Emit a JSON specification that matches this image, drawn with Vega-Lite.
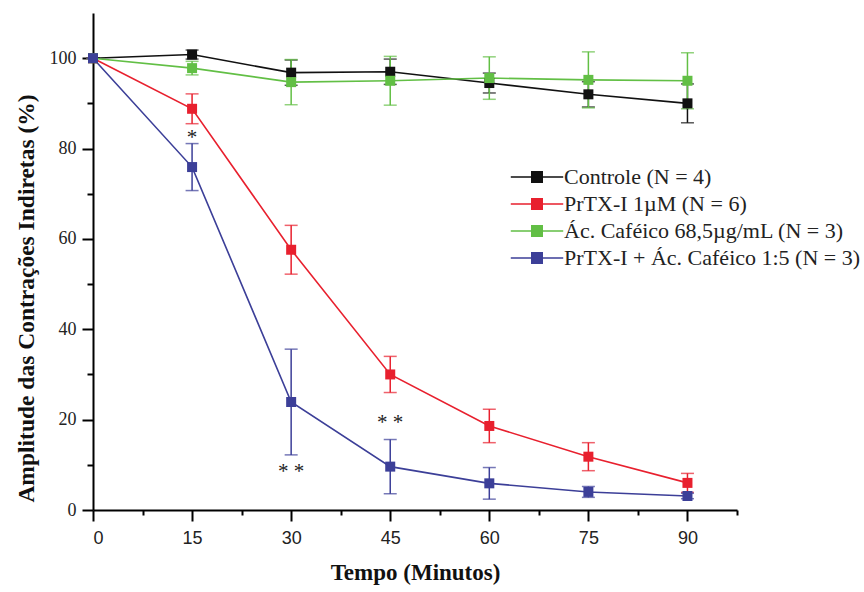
{
  "$schema": "https://vega.github.io/schema/vega-lite/v6.json",
  "autosize": {"type": "none"},
  "padding": {"left": 93, "top": 13, "right": 127, "bottom": 82},
  "width": 644,
  "height": 497,
  "background": "white",
  "config": {"view": {"stroke": null}},
  "datasets": {
    "series": [
      {"t": 0, "v": 100, "e": 0, "g": "Controle (N = 4)"},
      {"t": 15, "v": 100.8, "e": 1.0, "g": "Controle (N = 4)"},
      {"t": 30, "v": 96.8, "e": 2.8, "g": "Controle (N = 4)"},
      {"t": 45, "v": 97.0, "e": 2.8, "g": "Controle (N = 4)"},
      {"t": 60, "v": 94.5, "e": 2.2, "g": "Controle (N = 4)"},
      {"t": 75, "v": 92.0, "e": 2.8, "g": "Controle (N = 4)"},
      {"t": 90, "v": 90.0, "e": 4.3, "g": "Controle (N = 4)"},
      {"t": 0, "v": 100, "e": 0, "g": "PrTX-I 1µM (N = 6)"},
      {"t": 15, "v": 88.8, "e": 3.3, "g": "PrTX-I 1µM (N = 6)"},
      {"t": 30, "v": 57.6, "e": 5.4, "g": "PrTX-I 1µM (N = 6)"},
      {"t": 45, "v": 30.0, "e": 4.0, "g": "PrTX-I 1µM (N = 6)"},
      {"t": 60, "v": 18.6, "e": 3.7, "g": "PrTX-I 1µM (N = 6)"},
      {"t": 75, "v": 11.8, "e": 3.1, "g": "PrTX-I 1µM (N = 6)"},
      {"t": 90, "v": 6.0, "e": 2.1, "g": "PrTX-I 1µM (N = 6)"},
      {"t": 0, "v": 100, "e": 0, "g": "Ác. Caféico 68,5µg/mL (N = 3)"},
      {"t": 15, "v": 97.8, "e": 1.5, "g": "Ác. Caféico 68,5µg/mL (N = 3)"},
      {"t": 30, "v": 94.7, "e": 5.0, "g": "Ác. Caféico 68,5µg/mL (N = 3)"},
      {"t": 45, "v": 95.0, "e": 5.4, "g": "Ác. Caféico 68,5µg/mL (N = 3)"},
      {"t": 60, "v": 95.6, "e": 4.7, "g": "Ác. Caféico 68,5µg/mL (N = 3)"},
      {"t": 75, "v": 95.2, "e": 6.2, "g": "Ác. Caféico 68,5µg/mL (N = 3)"},
      {"t": 90, "v": 95.0, "e": 6.2, "g": "Ác. Caféico 68,5µg/mL (N = 3)"},
      {"t": 0, "v": 100, "e": 0, "g": "PrTX-I + Ác. Caféico 1:5 (N = 3)"},
      {"t": 15, "v": 75.9, "e": 5.2, "g": "PrTX-I + Ác. Caféico 1:5 (N = 3)"},
      {"t": 30, "v": 23.9, "e": 11.7, "g": "PrTX-I + Ác. Caféico 1:5 (N = 3)"},
      {"t": 45, "v": 9.6, "e": 6.0, "g": "PrTX-I + Ác. Caféico 1:5 (N = 3)"},
      {"t": 60, "v": 5.9, "e": 3.5, "g": "PrTX-I + Ác. Caféico 1:5 (N = 3)"},
      {"t": 75, "v": 4.0, "e": 1.2, "g": "PrTX-I + Ác. Caféico 1:5 (N = 3)"},
      {"t": 90, "v": 3.1, "e": 0.6, "g": "PrTX-I + Ác. Caféico 1:5 (N = 3)"}
    ],
    "stars": [
      {"t": 15, "v": 82.3, "s": "*"},
      {"t": 30, "v": 8.3, "s": "* *"},
      {"t": 45, "v": 19.2, "s": "* *"}
    ]
  },
  "encoding": {
    "x": {
      "field": "t", "type": "quantitative",
      "scale": {"domain": [0, 97.5], "nice": false, "zero": false},
      "axis": {
        "title": "Tempo (Minutos)",
        "values": [0, 7.5, 15, 22.5, 30, 37.5, 45, 52.5, 60, 67.5, 75, 82.5, 90, 97.5],
        "labelExpr": "datum.value % 15 === 0 ? datum.label : ''",
        "grid": false,
        "domainColor": "black", "domainWidth": 2,
        "tickColor": "black", "tickWidth": 2,
        "tickSize": {"condition": {"test": "datum.value % 15 === 0", "value": 11}, "value": 5},
        "labelFont": "Liberation Sans", "labelFontSize": 18, "labelColor": "#222",
        "labelPadding": 8,
        "titleFont": "Liberation Serif", "titleFontSize": 23, "titleFontWeight": "bold", "titleColor": "#111",
        "titlePadding": 14
      }
    },
    "y": {
      "field": "v", "type": "quantitative",
      "scale": {"domain": [0, 110], "nice": false},
      "axis": {
        "title": "Amplitude das Contrações Indiretas (%)",
        "values": [0, 10, 20, 30, 40, 50, 60, 70, 80, 90, 100],
        "labelExpr": "datum.value % 20 === 0 ? datum.label : ''",
        "grid": false,
        "domainColor": "black", "domainWidth": 2,
        "tickColor": "black", "tickWidth": 2,
        "tickSize": {"condition": {"test": "datum.value % 20 === 0", "value": 11}, "value": 6},
        "labelFont": "Liberation Serif", "labelFontSize": 18, "labelColor": "#222",
        "labelPadding": 6,
        "titleFont": "Liberation Serif", "titleFontSize": 23.5, "titleFontWeight": "bold", "titleColor": "#111",
        "titleX": -60, "titleY": 285, "titleBaseline": "alphabetic", "titleAngle": -90
      }
    }
  },
  "layer": [
    {
      "data": {"name": "series"},
      "mark": {"type": "errorbar", "ticks": {"size": 13, "thickness": 1.5}, "thickness": 1.5},
      "encoding": {
        "yError": {"field": "e"},
        "color": {"field": "g", "type": "nominal"}
      }
    },
    {
      "data": {"name": "series"},
      "mark": {"type": "line", "strokeWidth": 1.6},
      "encoding": {
        "color": {"field": "g", "type": "nominal"}
      }
    },
    {
      "data": {"name": "series"},
      "mark": {"type": "point", "shape": "square", "filled": true, "size": 100, "opacity": 1},
      "encoding": {
        "color": {
          "field": "g", "type": "nominal",
          "scale": {
            "domain": ["Controle (N = 4)", "PrTX-I 1µM (N = 6)", "Ác. Caféico 68,5µg/mL (N = 3)", "PrTX-I + Ác. Caféico 1:5 (N = 3)"],
            "range": ["#111111", "#e8202e", "#62bf45", "#3c3f98"]
          },
          "legend": {
            "title": null,
            "orient": "none",
            "legendX": 433,
            "legendY": 153,
            "padding": 0,
            "symbolType": "M-5,0H5M-1,-1H1V1H-1Z",
            "symbolSize": 110,
            "symbolStrokeWidth": 1.5,
            "symbolOpacity": 1,
            "labelOffset": 16,
            "labelFont": "Liberation Serif",
            "labelFontSize": 22,
            "labelColor": "#222",
            "labelLimit": 400,
            "rowPadding": 5,
            "encode": {
              "symbols": {
                "update": {
                  "stroke": {"scale": "color", "field": "value"},
                  "fill": {"scale": "color", "field": "value"},
                  "opacity": {"value": 1},
                  "fillOpacity": {"value": 1},
                  "strokeOpacity": {"value": 1}
                }
              }
            }
          }
        }
      }
    },
    {
      "data": {"name": "stars"},
      "mark": {"type": "text", "font": "Liberation Serif", "fontSize": 21, "color": "#222", "baseline": "middle"},
      "encoding": {
        "text": {"field": "s"}
      }
    }
  ]
}
